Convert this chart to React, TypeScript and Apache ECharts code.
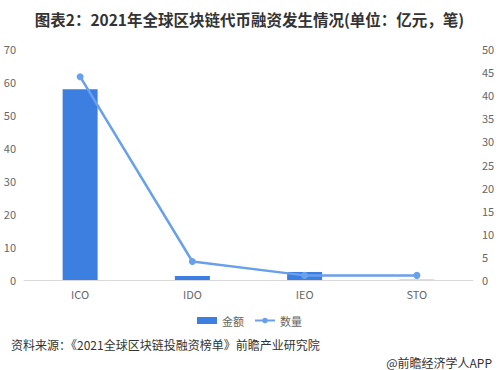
import React, { useEffect, useRef } from "react";
import * as echarts from "echarts";

const categories = ["ICO", "IDO", "IEO", "STO"];
const amountValues = [57.8, 1.2, 2.4, 0.1];
const countValues = [44, 4, 1, 1];
const leftTicks = { min: 0, max: 70, interval: 10 };
const rightTicks = { min: 0, max: 50, interval: 5 };

export default function App() {
  const ref = useRef<HTMLDivElement>(null);
  useEffect(() => {
    if (!ref.current) return;
    const chart = echarts.init(ref.current, null, { renderer: "svg" });
    const font = "'Microsoft YaHei', 'Noto Sans CJK SC', sans-serif";
    chart.setOption({
      animation: false,
      textStyle: { fontFamily: font },
      title: [
        {
          text: "图表2：2021年全球区块链代币融资发生情况(单位：亿元，笔)",
          left: "center",
          top: 6,
          textStyle: { fontSize: 15.5, fontWeight: "bold", color: "#333", fontFamily: font },
        },
        {
          text: "资料来源：《2021全球区块链投融资榜单》前瞻产业研究院",
          left: 6,
          top: 333,
          textStyle: { fontSize: 12, fontWeight: "normal", color: "#333", fontFamily: font },
        },
        {
          text: "@前瞻经济学人APP",
          right: 2,
          top: 351,
          textStyle: { fontSize: 12, fontWeight: "normal", color: "#333", fontFamily: font },
        },
      ],
      legend: {
        bottom: 39,
        left: "center",
        itemWidth: 20,
        itemHeight: 7,
        itemGap: 10,
        textStyle: { fontSize: 11, color: "#666" },
        data: [
          { name: "金额", icon: "rect" },
          { name: "数量" },
        ],
      },
      grid: { left: 24, right: 26, top: 49, bottom: 90, containLabel: false },
      xAxis: {
        type: "category",
        data: categories,
        axisLine: { lineStyle: { color: "#d9d9d9" } },
        axisTick: { show: false },
        axisLabel: { color: "#666", fontSize: 11, margin: 8 },
      },
      yAxis: [
        {
          type: "value",
          ...leftTicks,
          axisLine: { show: false },
          axisTick: { show: false },
          splitLine: { show: false },
          axisLabel: { color: "#666", fontSize: 11, margin: 8 },
        },
        {
          type: "value",
          ...rightTicks,
          position: "right",
          axisLine: { show: false },
          axisTick: { show: false },
          splitLine: { show: false },
          axisLabel: { color: "#666", fontSize: 11, margin: 9 },
        },
      ],
      series: [
        {
          name: "金额",
          type: "bar",
          data: amountValues,
          barWidth: 35,
          itemStyle: { color: "#3d7fe0" },
          yAxisIndex: 0,
        },
        {
          name: "数量",
          type: "line",
          data: countValues,
          yAxisIndex: 1,
          symbol: "circle",
          symbolSize: 7,
          lineStyle: { color: "#69a0ec", width: 2.5 },
          itemStyle: { color: "#69a0ec" },
        },
      ],
    });
    return () => chart.dispose();
  }, []);
  return <div ref={ref} style={{ width: 499, height: 370, position: "absolute", left: 0, top: 0, background: "#fff" }} />;
}
